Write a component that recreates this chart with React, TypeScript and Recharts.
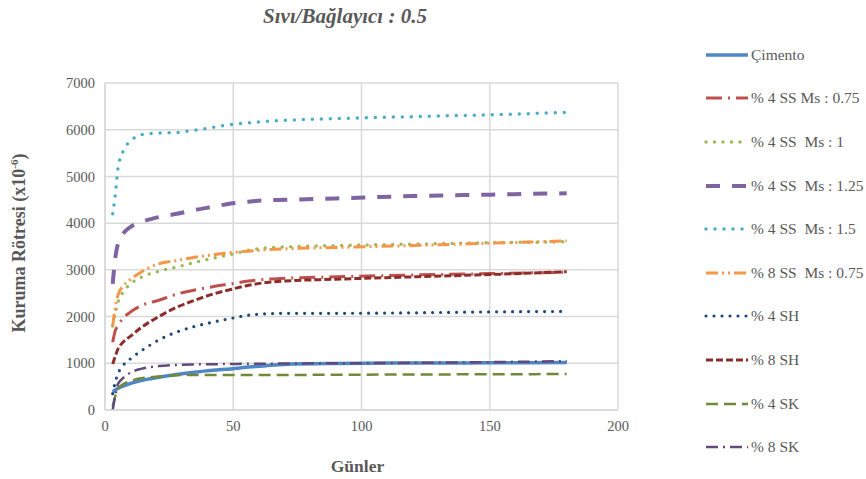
import React from "react";
import { LineChart, Line, XAxis, YAxis, CartesianGrid, Legend } from "recharts";

const days = [3, 4, 5, 7, 10, 14, 21, 28, 35, 42, 49, 56, 63, 70, 90, 120, 150, 180];
const cimento = [390, 430, 460, 510, 570, 630, 700, 760, 810, 850, 880, 920, 950, 975, 995, 1005, 1010, 1015];
const ss4_075 = [1450, 1700, 1800, 1960, 2100, 2230, 2350, 2480, 2570, 2640, 2700, 2760, 2800, 2820, 2850, 2890, 2920, 2950];
const ss4_1 = [1800, 2080, 2300, 2520, 2700, 2840, 2970, 3060, 3160, 3250, 3330, 3420, 3470, 3490, 3520, 3550, 3580, 3600];
const ss4_125 = [2700, 3250, 3550, 3770, 3920, 4020, 4130, 4200, 4280, 4350, 4420, 4460, 4490, 4500, 4530, 4580, 4610, 4640];
const ss4_15 = [4200, 4600, 5150, 5530, 5760, 5890, 5930, 5940, 5990, 6050, 6110, 6150, 6180, 6200, 6240, 6280, 6320, 6370];
const ss8_075 = [1800, 2200, 2450, 2650, 2800, 2950, 3130, 3200, 3270, 3320, 3370, 3400, 3430, 3450, 3480, 3520, 3570, 3620];
const sh4 = [350, 600, 770, 950, 1100, 1260, 1500, 1670, 1790, 1880, 1960, 2030, 2060, 2070, 2070, 2080, 2100, 2110];
const sh8 = [985, 1150, 1300, 1450, 1580, 1760, 2000, 2200, 2350, 2480, 2580, 2670, 2730, 2760, 2800, 2850, 2900, 2960];
const sk4 = [80, 300, 450, 550, 620, 680, 715, 745, 750, 750, 750, 750, 750, 750, 755, 760, 765, 770];
const sk8 = [0, 300, 550, 680, 800, 880, 940, 965, 975, 980, 985, 990, 990, 995, 1000, 1010, 1025, 1045];

const xTicks = [0, 50, 100, 150, 200];
const yTicks = [0, 1000, 2000, 3000, 4000, 5000, 6000, 7000];

const seriesDefs = [
  { key: "cimento", name: "Çimento", values: cimento, color: "#4F86C6", width: 3.5, dash: undefined as string | undefined, cap: "butt" },
  { key: "ss4_075", name: "% 4 SS Ms : 0.75", values: ss4_075, color: "#C0504D", width: 3, dash: "16 6 2 6", cap: "butt" },
  { key: "ss4_1", name: "% 4 SS  Ms : 1", values: ss4_1, color: "#9BBB59", width: 3.5, dash: "0 8.5", cap: "round" },
  { key: "ss4_125", name: "% 4 SS  Ms : 1.25", values: ss4_125, color: "#8064A2", width: 4, dash: "14 12", cap: "butt" },
  { key: "ss4_15", name: "% 4 SS  Ms : 1.5", values: ss4_15, color: "#4BACC6", width: 3.5, dash: "0 9", cap: "round" },
  { key: "ss8_075", name: "% 8 SS  Ms : 0.75", values: ss8_075, color: "#F79646", width: 3, dash: "12 4 2 4 2 4", cap: "butt" },
  { key: "sh4", name: "% 4 SH", values: sh4, color: "#1F497D", width: 3.2, dash: "0 8", cap: "round" },
  { key: "sh8", name: "% 8 SH", values: sh8, color: "#8B2E2B", width: 3, dash: "7 3", cap: "butt" },
  { key: "sk4", name: "% 4 SK", values: sk4, color: "#6E8B3D", width: 2.5, dash: "12 6", cap: "butt" },
  { key: "sk8", name: "% 8 SK", values: sk8, color: "#604A7B", width: 2.5, dash: "12 5 2 5", cap: "butt" },
];

const data = days.map((d, i) => {
  const row: Record<string, number> = { day: d };
  seriesDefs.forEach((s) => {
    row[s.key] = s.values[i];
  });
  return row;
});

const serif = "'Liberation Serif', 'DejaVu Serif', serif";
const grey = "#595959";

const LegendContent = () => (
  <div style={{ fontFamily: serif, fontSize: 15.5, color: grey }}>
    {seriesDefs.map((s) => (
      <div key={s.key} style={{ height: 43.6, display: "flex", alignItems: "center", whiteSpace: "pre" }}>
        <svg width={46} height={8} style={{ marginRight: 1, flex: "none" }}>
          <line
            x1={2}
            y1={4}
            x2={44}
            y2={4}
            stroke={s.color}
            strokeWidth={s.width}
            strokeDasharray={s.dash}
            strokeLinecap={s.cap as any}
          />
        </svg>
        <span>{s.name}</span>
      </div>
    ))}
  </div>
);

export default function App() {
  return (
    <div style={{ position: "absolute", left: 0, top: 0, width: 866, height: 479, background: "#fff", overflow: "hidden" }}>
      <div
        style={{
          position: "absolute",
          left: 0,
          width: 690,
          top: 4,
          textAlign: "center",
          fontFamily: serif,
          fontSize: 21,
          fontWeight: "bold",
          fontStyle: "italic",
          color: grey,
        }}
      >
        Sıvı/Bağlayıcı : 0.5
      </div>
      <div
        style={{
          position: "absolute",
          left: 19,
          top: 243,
          transform: "translate(-50%, -50%) rotate(-90deg)",
          whiteSpace: "nowrap",
          fontFamily: serif,
          fontSize: 18,
          fontWeight: "bold",
          color: grey,
        }}
      >
        Kuruma Rötresi (x10<sup style={{ fontSize: 11 }}>-6</sup>)
      </div>
      <div
        style={{
          position: "absolute",
          left: 105,
          width: 505,
          top: 456,
          textAlign: "center",
          fontFamily: serif,
          fontSize: 17.5,
          fontWeight: "bold",
          color: grey,
        }}
      >
        Günler
      </div>
      <LineChart width={866} height={479} data={data} margin={{ top: 83, right: 248, bottom: 0, left: 0 }}>
        <CartesianGrid stroke="#d9d9d9" strokeWidth={1.5} />
        <XAxis
          dataKey="day"
          type="number"
          domain={[0, 200]}
          ticks={xTicks}
          height={69}
          tickLine={false}
          tickSize={0}
          tickMargin={11}
          axisLine={{ stroke: "#d9d9d9", strokeWidth: 1.5 }}
          tick={{ fontFamily: serif, fontSize: 14.5, fill: grey }}
        />
        <YAxis
          type="number"
          domain={[0, 7000]}
          ticks={yTicks}
          width={105}
          tickLine={false}
          tickSize={0}
          tickMargin={10}
          axisLine={{ stroke: "#d9d9d9", strokeWidth: 1.5 }}
          tick={{ fontFamily: serif, fontSize: 14.5, fill: grey }}
        />
        <Legend
          layout="vertical"
          align="center"
          verticalAlign="middle"
          content={<LegendContent />}
          wrapperStyle={{ position: "absolute", left: 704, top: 33, width: 162 }}
        />
        {seriesDefs.map((s) => (
          <Line
            key={s.key}
            type="monotone"
            dataKey={s.key}
            name={s.name}
            stroke={s.color}
            strokeWidth={s.width}
            strokeDasharray={s.dash}
            strokeLinecap={s.cap as any}
            dot={false}
            activeDot={false}
            isAnimationActive={false}
          />
        ))}
      </LineChart>
    </div>
  );
}
